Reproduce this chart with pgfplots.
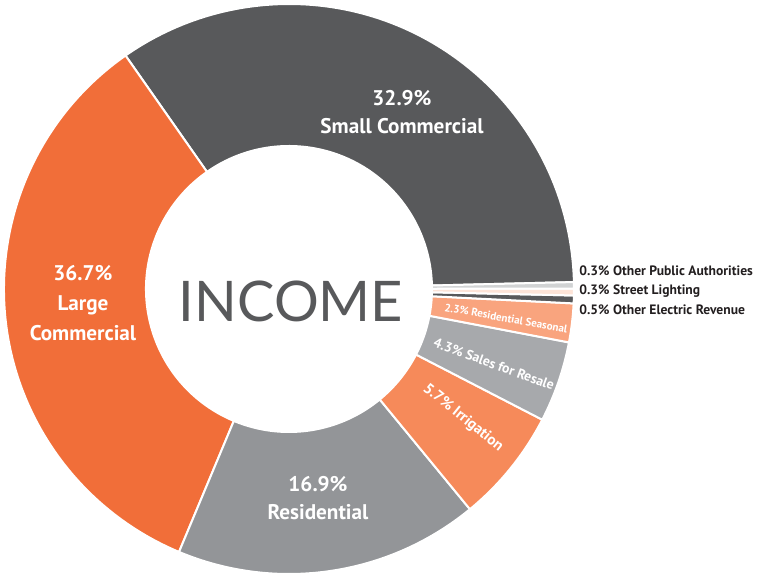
\documentclass[border=0pt]{standalone}
\usepackage{pgfplots}
\pgfplotsset{compat=1.18}
\usepackage{pgfplotstable}
\usepackage{fontspec}
\setmainfont{PT Sans}
\newfontfamily\incfont{Lato}
\definecolor{cSmall}{HTML}{58595B}
\definecolor{cLarge}{HTML}{F16E39}
\definecolor{cRes}{HTML}{939598}
\definecolor{cIrr}{HTML}{F68A5A}
\definecolor{cSales}{HTML}{A7A9AC}
\definecolor{cSeas}{HTML}{F9A47E}
\definecolor{cOER}{HTML}{58595B}
\definecolor{cSL}{HTML}{FDE4D8}
\definecolor{cOPA}{HTML}{D1D3D4}
\definecolor{cTxt}{HTML}{231F20}
% slice boundaries (degrees, counter-clockwise from east)
\pgfplotstableread{
a b col
1.4 125.0 cSmall
125.0 247.3 cLarge
-112.7 -50.6 cRes
-50.6 -27.3 cIrr
-27.3 -10.8 cSales
-10.8 -2.9 cSeas
-2.9 -1.3 cOER
-1.3 0.1 cSL
0.1 1.4 cOPA
}\slices
\begin{document}
\begin{tikzpicture}
\begin{axis}[hide axis, scale only axis, x=0.5pt, y=0.5pt,
  xmin=0, xmax=758, ymin=0, ymax=575, disabledatascaling, clip=false]
\pgfplotsinvokeforeach{0,...,8}{
  \pgfplotstablegetelem{#1}{a}\of\slices \let\sa\pgfplotsretval
  \pgfplotstablegetelem{#1}{b}\of\slices \let\sb\pgfplotsretval
  \pgfplotstablegetelem{#1}{col}\of\slices \let\sc\pgfplotsretval
  \edef\doslice{\noexpand\filldraw[fill=\sc, draw=white, line width=1pt]
    ([shift={(\sa:142.5pt)}]axis cs:289,286) arc[start angle=\sa, end angle=\sb, radius=142.5pt]
    -- ([shift={(\sb:71.5pt)}]axis cs:289,286) arc[start angle=\sb, end angle=\sa, radius=71.5pt] -- cycle;}
  \doslice
}
\node[white, font=\bfseries\fontsize{10.6}{14}\selectfont, align=center] at (axis cs:402,463) {32.9\%\\Small Commercial};
\node[white, font=\bfseries\fontsize{10.6}{15}\selectfont, align=center] at (axis cs:83,272) {36.7\%\\Large\\Commercial};
\node[white, font=\bfseries\fontsize{10.6}{14}\selectfont, align=center] at (axis cs:318,77) {16.9\%\\Residential};
\node[color=cSmall, font=\incfont\fontsize{28}{30}\selectfont] at (axis cs:291,274) {INCOME};
\node[white, inner sep=0pt, font=\bfseries\fontsize{7.6}{9}\selectfont, rotate=-39] at (axis cs:463,157) {5.7\% Irrigation};
\node[white, inner sep=0pt, font=\bfseries\fontsize{6.9}{8}\selectfont, rotate=-20] at (axis cs:494,211) {4.3\% Sales for Resale};
\node[white, inner sep=0pt, font=\bfseries\fontsize{5.5}{6}\selectfont, rotate=-10] at (axis cs:506,257) {2.3\% Residential Seasonal};
\node[cTxt, anchor=west, inner sep=0pt, font=\bfseries\fontsize{6.8}{7}\selectfont] at (axis cs:579,304) {0.3\% Other Public Authorities};
\node[cTxt, anchor=west, inner sep=0pt, font=\bfseries\fontsize{6.8}{7}\selectfont] at (axis cs:579,284) {0.3\% Street Lighting};
\node[cTxt, anchor=west, inner sep=0pt, font=\bfseries\fontsize{6.8}{7}\selectfont] at (axis cs:579,265) {0.5\% Other Electric Revenue};
\end{axis}
\pgfresetboundingbox
\path[use as bounding box] (current axis.south west) rectangle (current axis.north east);
\end{tikzpicture}
\end{document}
